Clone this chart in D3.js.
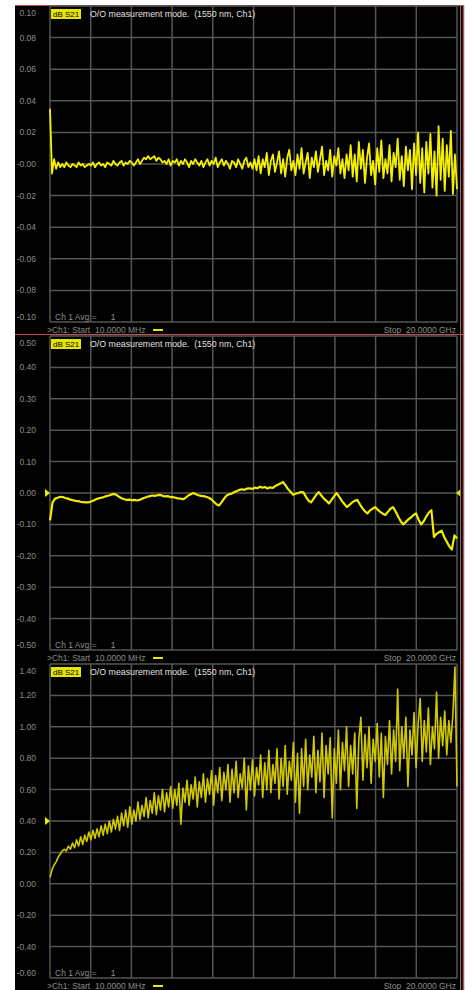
<!DOCTYPE html>
<html><head><meta charset="utf-8">
<script src="https://cdn.jsdelivr.net/npm/d3@7"></script>
<style>html,body{margin:0;padding:0;background:#fff;} svg{display:block;}</style>
</head><body>
<svg id="c" width="467" height="990"></svg>
<script>
// Sweep (GHz)
const startGHz = 0.01, stopGHz = 20;
const xDivisions = 10;

// Panel 1: dB S21, -0.10 .. 0.10
const ticks1 = [0.10, 0.08, 0.06, 0.04, 0.02, 0.00, -0.02, -0.04, -0.06, -0.08, -0.10];
const labels1 = ["0.10", "0.08", "0.06", "0.04", "0.02", "-0.00", "-0.02", "-0.04", "-0.06", "-0.08", "-0.10"];
const trace1 = [
  0.035, -0.006, 0.003, -0.003, 0.001, -0.002, 0.000, -0.002, 0.001, -0.001, -0.002, 0.000, -0.001, -0.002, 0.001, -0.001, 0.000, -0.002, -0.001, 0.000,
  -0.001, 0.001, -0.002, 0.000, 0.001, -0.001, 0.000, -0.002, 0.001, 0.000, -0.001, 0.002, 0.000, -0.001, 0.001, 0.002, -0.001, 0.001, 0.000, 0.002, 0.001, -0.001, 0.001, 0.003, 0.000,
  0.002, 0.004, 0.003, 0.005, 0.003, 0.004, 0.005, 0.002, 0.004, 0.003, 0.001,
  0.002, 0.000, 0.003, -0.001, 0.002, 0.001, 0.003, -0.001, 0.002, 0.000, 0.003, 0.001, -0.002, 0.002, 0.000, 0.003, 0.001, -0.001, 0.002, -0.002, 0.001, 0.003, -0.001, 0.002, 0.000, 0.004, -0.002, 0.001, 0.003, -0.001, 0.002, 0.000, -0.003, 0.002, 0.001, -0.002, 0.003, 0.000, -0.003, 0.002, 0.004, -0.002, 0.001, -0.003, 0.003,
  -0.004, 0.005, -0.006, 0.003, -0.002, 0.007, -0.007, 0.002, 0.006, -0.005, 0.001, 0.008, -0.006, 0.003, -0.008, 0.004, 0.009, -0.004, 0.002, -0.007, 0.006, -0.003, 0.010, -0.006, 0.001, 0.007, -0.009, 0.004, -0.002, 0.008, -0.005, 0.003, 0.011, -0.007, 0.002, -0.004, 0.009, -0.008, 0.005, -0.001, 0.010, -0.006, 0.003, -0.009, 0.006,
  -0.004, 0.012, -0.008, 0.006, -0.011, 0.014, -0.003, 0.009, -0.012, 0.004, 0.013, -0.007, 0.002, -0.013, 0.010, -0.005, 0.015, -0.009, 0.003, -0.006, 0.012, -0.011, 0.007, -0.002, 0.016, -0.010, 0.005, -0.014, 0.011, -0.004, 0.009, -0.016, 0.013, -0.007, 0.020,
  -0.012, 0.010, -0.018, 0.014, -0.006, 0.019, -0.015, 0.008, -0.020, 0.024, -0.010, 0.016, -0.017, 0.012, -0.008, 0.021, -0.019, 0.006, -0.016
];

// Panel 2: dB S21, -0.50 .. 0.50
const ticks2 = [0.50, 0.40, 0.30, 0.20, 0.10, 0.00, -0.10, -0.20, -0.30, -0.40, -0.50];
const labels2 = ["0.50", "0.40", "0.30", "0.20", "0.10", "0.00", "-0.10", "-0.20", "-0.30", "-0.40", "-0.50"];
const trace2 = [
  -0.087, -0.030, -0.018, -0.015, -0.012, -0.013, -0.016, -0.018, -0.021, -0.023,
  -0.025, -0.026, -0.028, -0.029, -0.030, -0.030, -0.027, -0.024, -0.020, -0.017,
  -0.015, -0.013, -0.010, -0.008, -0.005, -0.003, -0.006, -0.012, -0.017, -0.020,
  -0.022, -0.021, -0.023, -0.022, -0.024, -0.022, -0.018, -0.015, -0.012, -0.010,
  -0.008, -0.009, -0.007, -0.006, -0.009, -0.011, -0.010, -0.013, -0.013, -0.015,
  -0.017, -0.018, -0.020, -0.015, -0.008, -0.004, 0.000, -0.004, -0.007, -0.009,
  -0.010, -0.012, -0.015, -0.020, -0.028, -0.036, -0.040, -0.030, -0.018, -0.008,
  -0.004, -0.002, 0.003, 0.006, 0.010, 0.012, 0.010, 0.014, 0.015, 0.013,
  0.017, 0.015, 0.020, 0.017, 0.019, 0.014, 0.018, 0.016, 0.022, 0.026,
  0.030, 0.035, 0.024, 0.012, 0.004, -0.006, -0.002, 0.000, 0.003, 0.002,
  -0.012, -0.024, -0.030, -0.018, -0.006, 0.003, -0.008, -0.018, -0.025, -0.033,
  -0.022, -0.010, 0.000, -0.012, -0.025, -0.035, -0.045, -0.038, -0.030, -0.025,
  -0.022, -0.035, -0.048, -0.058, -0.065, -0.056, -0.050, -0.045, -0.053, -0.060,
  -0.066, -0.070, -0.060, -0.050, -0.045, -0.058, -0.075, -0.090, -0.100, -0.092,
  -0.084, -0.078, -0.070, -0.065, -0.085, -0.100, -0.090, -0.075, -0.062, -0.055,
  -0.140, -0.130, -0.125, -0.120, -0.140, -0.155, -0.170, -0.180, -0.135, -0.145
];

// Panel 3: dB S21, -0.60 .. 1.40
const ticks3 = [1.40, 1.20, 1.00, 0.80, 0.60, 0.40, 0.20, 0.00, -0.20, -0.40, -0.60];
const labels3 = ["1.40", "1.20", "1.00", "0.80", "0.60", "0.40", "0.20", "0.00", "-0.20", "-0.40", "-0.60"];
const trace3 = [
  0.04, 0.09, 0.12, 0.14, 0.17, 0.19, 0.21, 0.22, 0.21, 0.24,
  0.22, 0.26, 0.23, 0.28, 0.24, 0.30, 0.25, 0.31, 0.27, 0.33,
  0.28, 0.34, 0.29, 0.35, 0.30, 0.37, 0.31, 0.38, 0.32, 0.40,
  0.33, 0.41, 0.35, 0.43, 0.34, 0.45, 0.37, 0.47, 0.36, 0.49,
  0.38, 0.47, 0.40, 0.52, 0.41, 0.50, 0.43, 0.55, 0.42, 0.53,
  0.45, 0.58, 0.44, 0.56, 0.47, 0.60, 0.46, 0.58, 0.49, 0.62,
  0.48, 0.60, 0.50, 0.64, 0.38, 0.61, 0.52, 0.66, 0.50, 0.63,
  0.54, 0.68, 0.49, 0.65, 0.55, 0.70, 0.52, 0.67, 0.57, 0.72,
  0.50, 0.69, 0.58, 0.74, 0.53, 0.71, 0.60, 0.76, 0.52, 0.73,
  0.58, 0.78, 0.55, 0.70, 0.61, 0.80, 0.47, 0.75, 0.60, 0.79,
  0.56, 0.74, 0.63, 0.82, 0.55, 0.77, 0.60, 0.85, 0.58, 0.76,
  0.64, 0.86, 0.54, 0.80, 0.62, 0.88, 0.57, 0.78, 0.66, 0.90,
  0.52, 0.83, 0.45, 0.86, 0.62, 0.92, 0.60, 0.82, 0.68, 0.94,
  0.58, 0.85, 0.65, 0.96, 0.55, 0.88, 0.70, 0.93, 0.42, 0.86,
  0.64, 0.98, 0.60, 0.90, 0.72, 1.00, 0.62, 0.88, 0.70, 0.96,
  0.48, 0.92, 1.06, 0.66, 0.95, 0.74, 1.00, 0.64, 0.92, 0.78,
  1.02, 0.68, 0.96, 0.55, 0.94, 0.76, 1.04, 0.70, 0.98, 0.78,
  1.24, 0.72, 1.00, 0.80, 1.06, 0.62, 0.98, 0.82, 1.09, 0.74,
  1.02, 1.18, 0.78, 1.04, 0.84, 1.12, 0.76, 1.00, 0.86, 1.22,
  0.80, 1.06, 0.88, 1.10, 0.82, 1.04, 0.90, 1.08, 1.38, 0.62
];

const panels = [
  {ticks: ticks1, labels: labels1, data: trace1, bgTop: 5, bgBot: 334, top: 6, bot: 322, redTop: true, color: "#f4f000", width: 1.8, markers: []},
  {ticks: ticks2, labels: labels2, data: trace2, bgTop: 334, bgBot: 663, top: 336, bot: 650, redTop: true, color: "#f0ec00", width: 2.2, markers: [{side: "L", v: 0.0}, {side: "R", v: 0.0}]},
  {ticks: ticks3, labels: labels3, data: trace3, bgTop: 663, bgBot: 990, top: 664, bot: 978, redTop: false, color: "#d2c800", width: 1.6, markers: [{side: "L", v: 0.40}]}
];

const svg = d3.select("#c");
const X0 = 50, X1 = 457;
const font = "'Liberation Sans', Arial, sans-serif";

const x = d3.scaleLinear().domain([startGHz, stopGHz]).range([X0, X1]);
const xGrid = d3.range(xDivisions + 1).map(k => startGHz + k * (stopGHz - startGHz) / xDivisions);

panels.forEach(p => {
  const g = svg.append("g");
  g.append("rect").attr("x", 15).attr("y", p.bgTop).attr("width", 449).attr("height", p.bgBot - p.bgTop).attr("fill", "#000");
  if (p.redTop) {
    g.append("line").attr("x1", 15).attr("x2", 464).attr("y1", p.bgTop + 0.5).attr("y2", p.bgTop + 0.5)
      .attr("stroke", "#c05050").attr("stroke-width", 1.2);
  }
  const y = d3.scaleLinear().domain([d3.min(p.ticks), d3.max(p.ticks)]).range([p.bot, p.top]);

  // grid
  const grid = g.append("g");
  grid.selectAll("line.h").data(p.ticks).join("line")
    .attr("x1", X0).attr("x2", X1).attr("y1", d => y(d)).attr("y2", d => y(d))
    .attr("stroke", "#555").attr("stroke-width", 1.5);
  grid.selectAll("line.v").data(xGrid).join("line")
    .attr("x1", d => x(d)).attr("x2", d => x(d)).attr("y1", p.top).attr("y2", p.bot)
    .attr("stroke", "#555").attr("stroke-width", 1.5);

  // y labels
  g.selectAll("text.yl").data(p.ticks).join("text")
    .attr("x", 36)
    .attr("y", (d, i) => {
      let yy = y(d);
      if (i === 0) yy += 7;
      else if (i === p.ticks.length - 1) yy -= 5;
      return yy + 3;
    })
    .attr("text-anchor", "end").attr("font-family", font).attr("font-size", 8.5)
    .attr("fill", "#8c8c8c").text((d, i) => p.labels[i]);

  // header
  g.append("rect").attr("x", 51).attr("y", p.top + 3).attr("width", 30).attr("height", 10).attr("fill", "#e6e600");
  g.append("text").attr("x", 53).attr("y", p.top + 11).attr("font-family", font).attr("font-size", 8)
    .attr("fill", "#000").text("dB S21");
  g.append("text").attr("x", 90).attr("y", p.top + 11).attr("font-family", font).attr("font-size", 8.8)
    .attr("fill", "#e0e0e0").attr("xml:space", "preserve").text("O/O measurement mode.  (1550 nm, Ch1)");

  // trace
  const n = p.data.length;
  const line = d3.line()
    .x((d, i) => x(startGHz + i * (stopGHz - startGHz) / (n - 1)))
    .y(d => y(d));
  g.append("path").attr("d", line(p.data)).attr("fill", "none")
    .attr("stroke", p.color).attr("stroke-width", p.width).attr("stroke-linejoin", "round");

  // markers
  p.markers.forEach(m => {
    const yy = y(m.v);
    const pts = m.side === "L"
      ? [[45, yy - 4], [50, yy], [45, yy + 4]]
      : [[461, yy - 4], [456, yy], [461, yy + 4]];
    g.append("polygon").attr("points", pts.map(q => q.join(",")).join(" ")).attr("fill", "#f0ec00");
  });

  // footer
  g.append("text").attr("x", 55).attr("y", p.bot - 2).attr("font-family", font).attr("font-size", 8.5)
    .attr("fill", "#8c8c8c").attr("xml:space", "preserve").text("Ch 1 Avg =      1");
  g.append("text").attr("x", 47).attr("y", p.bot + 11).attr("font-family", font).attr("font-size", 8.5)
    .attr("fill", "#8c8c8c").attr("xml:space", "preserve").text(">Ch1: Start  10.0000 MHz");
  g.append("line").attr("x1", 153).attr("x2", 163).attr("y1", p.bot + 8).attr("y2", p.bot + 8)
    .attr("stroke", "#e6e600").attr("stroke-width", 2);
  g.append("text").attr("x", 456).attr("y", p.bot + 11).attr("text-anchor", "end").attr("font-family", font).attr("font-size", 8.5)
    .attr("fill", "#8c8c8c").attr("xml:space", "preserve").text("Stop  20.0000 GHz");
});

// right edge lines
svg.append("line").attr("x1", 460.5).attr("x2", 460.5).attr("y1", 5).attr("y2", 990).attr("stroke", "#777").attr("stroke-width", 1);
svg.append("line").attr("x1", 463.5).attr("x2", 463.5).attr("y1", 5).attr("y2", 990).attr("stroke", "#c05050").attr("stroke-width", 1.5);
</script>
</body></html>
